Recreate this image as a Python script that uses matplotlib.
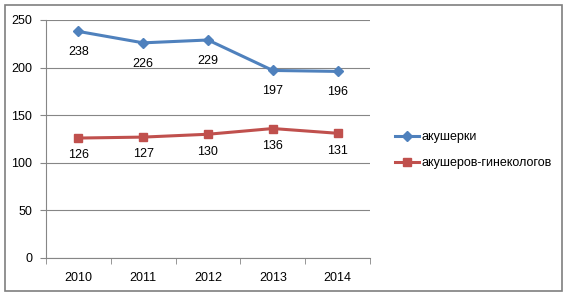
import numpy as np
import matplotlib.pyplot as plt
from matplotlib.patches import Rectangle

# Data
years = ['2010', '2011', '2012', '2013', '2014']
midwives = [238, 226, 229, 197, 196]
obgyn = [126, 127, 130, 136, 131]
yticks = [0, 50, 100, 150, 200, 250]

W, H = 569, 298
fig = plt.figure(figsize=(W / 100, H / 100), dpi=100)
plt.rcParams['font.family'] = ['Liberation Sans', 'DejaVu Sans']

# outer frame
fig.patches.append(Rectangle((5 / W, 1 - 291 / H), 557 / W, 286 / H,
                             transform=fig.transFigure, fill=False,
                             edgecolor='#7f7f7f', linewidth=1.2))

ax = fig.add_axes([46 / W, 1 - 258 / H, 324 / W, 238 / H])
x = np.arange(len(years))
ax.plot(x, midwives, color='#4F81BD', lw=2.2, marker='D', ms=5,
        label='акушерки')
ax.plot(x, obgyn, color='#C0504D', lw=2.2, marker='s', ms=6,
        label='акушеров-гинекологов')

for xi, v in zip(x, midwives):
    ax.annotate(str(v), (xi, v), xytext=(0, -15), textcoords='offset points',
                ha='center', va='center', fontsize=9)
for xi, v in zip(x, obgyn):
    ax.annotate(str(v), (xi, v), xytext=(0, -12.5), textcoords='offset points',
                ha='center', va='center', fontsize=9)

ax.set_xlim(-0.5, len(years) - 0.5)
ax.set_ylim(0, 250)
ax.set_yticks(yticks)
ax.set_xticks(x)
ax.set_xticklabels(years)
ax.set_xticks(np.arange(-0.5, len(years)), minor=True)
ax.tick_params(axis='x', which='major', length=0, pad=10, labelsize=9)
ax.tick_params(axis='x', which='minor', length=4, color='#868686')
ax.tick_params(axis='y', length=4, color='#868686', labelsize=9, pad=6)
ax.grid(axis='y', color='#868686', lw=0.8)
ax.set_axisbelow(True)
for s in ['top', 'right']:
    ax.spines[s].set_visible(False)
for s in ['left', 'bottom']:
    ax.spines[s].set_color('#868686')

ax.legend(loc='center left', bbox_to_anchor=(384 / W, 1 - 150 / H),
          bbox_transform=fig.transFigure, frameon=False, fontsize=9,
          handlelength=1.9, handletextpad=0.2, labelspacing=1.1)

plt.savefig('out.png', dpi=100)
